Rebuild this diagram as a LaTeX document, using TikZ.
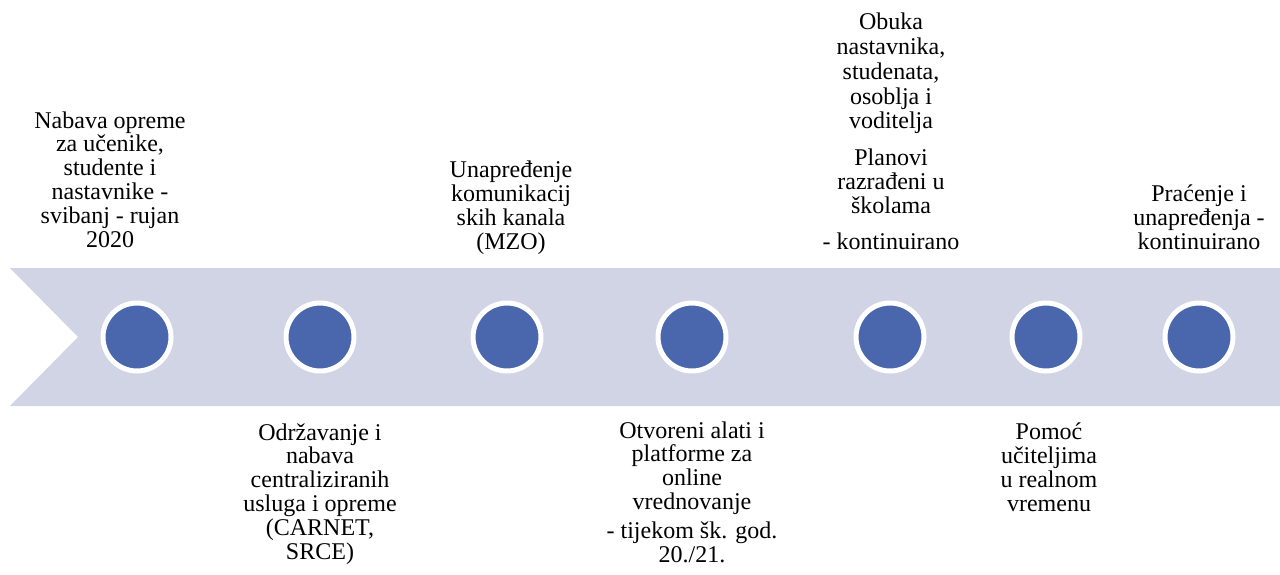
\documentclass[tikz,border=0pt]{standalone}
\usepackage{fontspec}
\setmainfont{Liberation Serif}
\definecolor{bandcol}{HTML}{D0D4E5}
\definecolor{dotcol}{HTML}{4A66AC}
\begin{document}
\begin{tikzpicture}[x=1pt,y=-1pt,
  dot/.style={circle,fill=dotcol,draw=white,line width=5pt,minimum size=68pt,inner sep=0pt},
  lbl/.style={align=center,inner sep=0pt,anchor=base,font=\fontsize{24}{23.8}\selectfont}]
\useasboundingbox (0,0) rectangle (1280,574);
\fill[bandcol] (10,268) -- (1280,268) -- (1280,406) -- (10,406) -- (78,337) -- cycle;
\node[dot] (d1) at (137,337) {};
\node[dot] (d2) at (320,337) {};
\node[dot] (d3) at (507,337) {};
\node[dot] (d4) at (692,337) {};
\node[dot] (d5) at (890,337) {};
\node[dot] (d6) at (1046,337) {};
\node[dot] (d7) at (1199,337) {};
\node[lbl] (t1) at (110,247) {Nabava opreme\\za učenike,\\studente i\\nastavnike -\\svibanj - rujan\\2020};
\node[lbl] (t2) at (511,249) {Unapređenje\\komunikacij\\skih kanala\\(MZO)};
\node[lbl] (t3) at (891,249) {Obuka\\[1pt]nastavnika,\\[1pt]studenata,\\[1pt]osoblja i\\[1pt]voditelja\\[13pt]Planovi\\razrađeni u\\školama\\[12pt]- kontinuirano};
\node[lbl] (t4) at (1199,249) {Praćenje i\\unapređenja -\\kontinuirano};
\node[lbl] (b1) at (320,559) {Održavanje i\\nabava\\centraliziranih\\usluga i opreme\\(CARNET,\\SRCE)};
\node[lbl] (b2) at (692,562) {Otvoreni alati i\\platforme za\\online\\vrednovanje\\[5pt]- tijekom šk. god.\\20./21.};
\node[lbl] (b3) at (1049,511) {Pomoć\\učiteljima\\u realnom\\vremenu};
\end{tikzpicture}
\end{document}
